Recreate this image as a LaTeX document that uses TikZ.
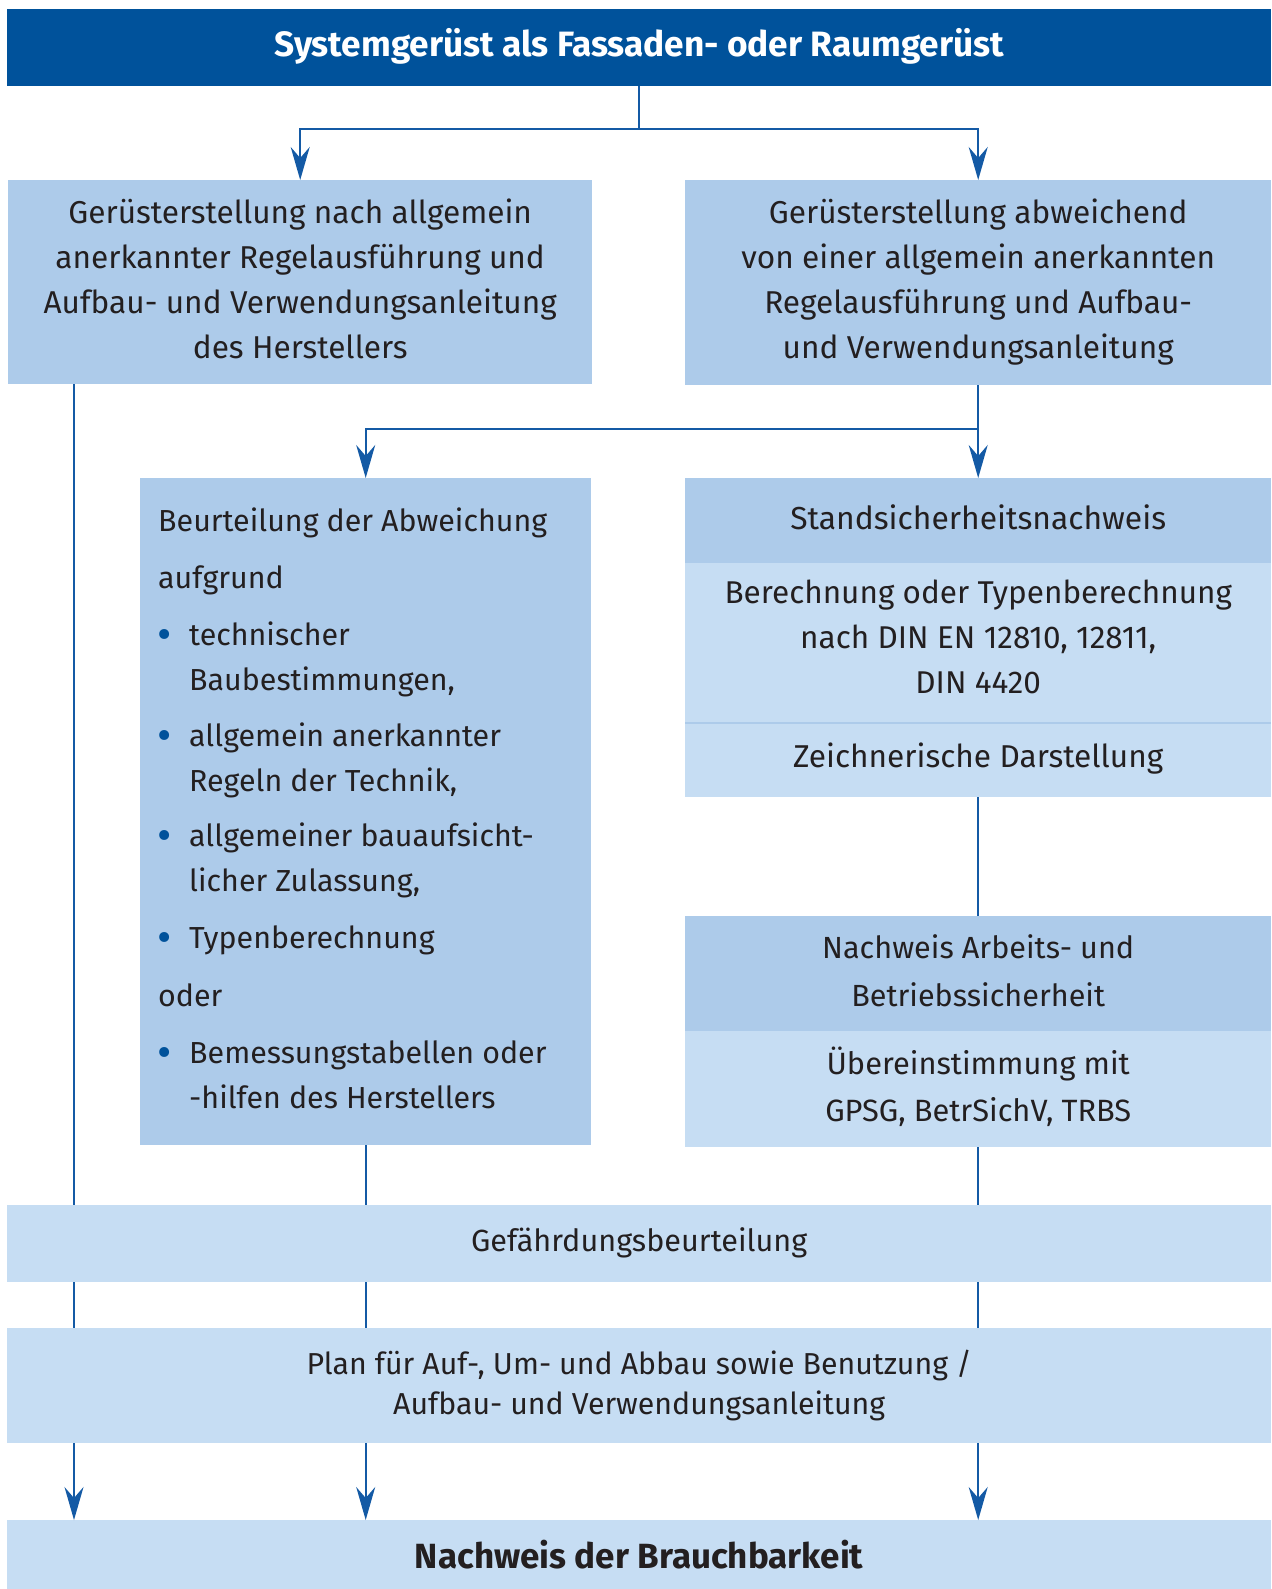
\documentclass[tikz,border=0pt]{standalone}
\usepackage{fontspec}
\setmainfont{Fira Sans}
\usetikzlibrary{arrows.meta}
\definecolor{dblue}{RGB}{0,82,155}
\definecolor{lineblue}{RGB}{20,90,165}
\definecolor{cmid}{RGB}{173,203,234}
\definecolor{clight}{RGB}{198,221,243}
\definecolor{txt}{RGB}{35,31,32}
\newcommand{\fbul}{\makebox[31pt][l]{\hspace*{-1pt}\raisebox{-4pt}{\fontsize{44}{45}\selectfont\textcolor{dblue}{•}}}}
\newcommand{\findent}{\hspace*{31pt}}
\newcommand{\fs}[1]{\fontsize{#1}{45}\selectfont}
\tikzset{
  boxnode/.style={rectangle, inner sep=0pt, anchor=north west},
  tx/.style={inner sep=0pt, text=txt, align=center},
  conn/.style={draw=lineblue, line width=1.8pt},
  arr/.style={conn, -{Stealth[length=33pt,width=19pt,inset=11pt]}}
}
\begin{document}
\begin{tikzpicture}[x=1pt,y=-1pt]
\useasboundingbox (0,0) rectangle (1271,1589);
% boxes
\node[boxnode, fill=dblue, minimum width=1264pt, minimum height=77pt] (title) at (7,9) {};
\node[tx, text=white, font=\fontsize{35.2}{40}\selectfont\bfseries, yshift=1.5pt] (title-t) at (title.center)
  {Systemgerüst als Fassaden- oder Raumgerüst};

\node[boxnode, fill=cmid, minimum width=584pt, minimum height=204pt] (lbox) at (8,180) {};
\node[tx, font=\fs{31.6}, yshift=3pt] (lbox-t) at (lbox.center)
  {Gerüsterstellung nach allgemein\\anerkannter Regelausführung und\\Aufbau- und Verwendungsanleitung\\des Herstellers};

\node[boxnode, fill=cmid, minimum width=586pt, minimum height=205pt] (rbox) at (685,180) {};
\node[tx, font=\fs{31.6}, yshift=0.5pt] (rbox-t) at (rbox.center)
  {Gerüsterstellung abweichend\\von einer allgemein anerkannten\\Regelausführung und Aufbau-\\und Verwendungsanleitung};

\node[boxnode, fill=cmid, minimum width=451pt, minimum height=667pt] (beur) at (140,478) {};
\node[tx, align=left, anchor=north west, font=\fs{30.4}] (beur-t) at (158,507.5)
  {Beurteilung der Abweichung\\[12pt]
   aufgrund\\[12pt]
   \fbul technischer\\
   \findent Baubestimmungen,\\[11pt]
   \fbul allgemein anerkannter\\
   \findent Regeln der Technik,\\[10.5pt]
   \fbul allgemeiner bauaufsicht-\\
   \findent licher Zulassung,\\[12pt]
   \fbul Typenberechnung\\[13pt]
   oder\\[11.5pt]
   \fbul Bemessungstabellen oder\\
   \findent -hilfen des Herstellers};

\node[boxnode, fill=cmid, minimum width=586pt, minimum height=85pt] (standh) at (685,478) {};
\node[tx, font=\fs{31.8}, yshift=3.5pt] (standh-t) at (standh.center) {Standsicherheitsnachweis};

\node[boxnode, fill=clight, minimum width=586pt, minimum height=160pt] (calc) at (685,563) {};
\node[tx, font=\fs{31.5}, yshift=6pt] (calc-t) at (calc.center)
  {Berechnung oder Typenberechnung\\nach DIN EN 12810, 12811,\\DIN 4420};

\node[boxnode, fill=clight, minimum width=586pt, minimum height=74pt] (zeich) at (685,723) {};
\node[tx, font=\fs{31.6}, yshift=2pt] (zeich-t) at (zeich.center) {Zeichnerische Darstellung};
\draw[cmid, line width=2pt] (zeich.north west) -- (zeich.north east);

\node[boxnode, fill=cmid, minimum width=586pt, minimum height=115pt] (nachh) at (685,916) {};
\node[tx, font=\fontsize{30.6}{47.5}\selectfont, yshift=3pt] (nachh-t) at (nachh.center) {Nachweis Arbeits- und\\Betriebssicherheit};

\node[boxnode, fill=clight, minimum width=586pt, minimum height=116pt] (nachb) at (685,1031) {};
\node[tx, font=\fontsize{30.8}{46.5}\selectfont, yshift=2.5pt] (nachb-t) at (nachb.center) {Übereinstimmung mit\\GPSG, BetrSichV, TRBS};

\node[boxnode, fill=clight, minimum width=1264pt, minimum height=77pt] (gef) at (7,1205) {};
\node[tx, font=\fs{30.6}, yshift=1pt] (gef-t) at (gef.center) {Gefährdungsbeurteilung};

\node[boxnode, fill=clight, minimum width=1264pt, minimum height=115pt] (plan) at (7,1328) {};
\node[tx, font=\fontsize{30.3}{40}\selectfont] (plan-t) at (plan.center)
  {Plan für Auf-, Um- und Abbau sowie Benutzung /\\Aufbau- und Verwendungsanleitung};

\node[boxnode, fill=clight, minimum width=1264pt, minimum height=69pt] (final) at (7,1520) {};
\node[tx, font=\fontsize{35}{40}\selectfont\bfseries] (final-t) at (final.center) {Nachweis der Brauchbarkeit};

% connectors
\coordinate (j1) at (639,129);
\coordinate (j2) at (978,429);
\coordinate (cl) at (74,0);
\draw[conn] (title.south -| j1) -- (j1);
\draw[arr] (j1) -| (lbox.north);
\draw[arr] (j1) -| (rbox.north);
\draw[arr] (rbox.south) -- (standh.north);
\draw[arr] (j2) -| (beur.north);
\draw[conn] (zeich.south) -- (nachh.north);
% left column
\draw[conn] (lbox.south -| cl) -- (gef.north -| cl);
\draw[conn] (gef.south -| cl) -- (plan.north -| cl);
\draw[arr] (plan.south -| cl) -- (final.north -| cl);
% middle column
\draw[conn] (beur.south) -- (gef.north -| beur.south);
\draw[conn] (gef.south -| beur.south) -- (plan.north -| beur.south);
\draw[arr] (plan.south -| beur.south) -- (final.north -| beur.south);
% right column
\draw[conn] (nachb.south) -- (gef.north -| nachb.south);
\draw[conn] (gef.south -| nachb.south) -- (plan.north -| nachb.south);
\draw[arr] (plan.south -| nachb.south) -- (final.north -| nachb.south);
\end{tikzpicture}
\end{document}
